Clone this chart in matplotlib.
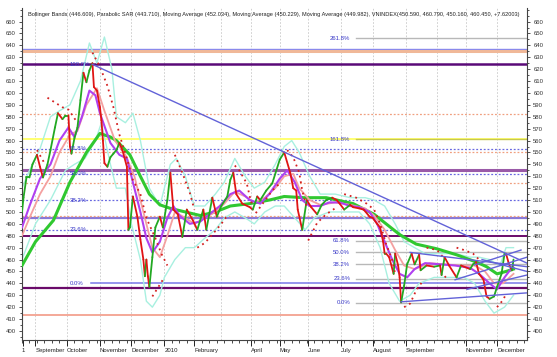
import matplotlib.pyplot as plt
from matplotlib.ticker import MultipleLocator

plt.rcParams['font.family'] = ['Liberation Sans', 'DejaVu Sans']

# ---- data (x = trading-day index from mid-Aug 2009) ----
close_day = [0, 1, 3, 5, 7, 10, 12, 14, 17, 19, 22, 24, 27, 29, 31, 32, 33, 35, 37, 39, 41, 43, 45, 47,
             48, 50, 52, 53, 54, 55, 57, 59, 61, 63, 65, 67, 70, 71, 72, 74, 77, 79, 81, 82, 83, 84, 85,
             87, 89, 92, 94, 97, 99, 101, 104, 107, 110, 114, 117, 121, 123, 127, 130, 133, 137, 139, 141,
             143, 147, 152, 154, 157, 159, 163, 167, 172, 175, 179, 181, 183, 184, 187, 190, 193, 197, 200,
             203, 207, 210, 212, 215, 219, 221, 225, 228, 232, 234, 237, 239, 240, 241, 242, 243, 245, 248,
             249, 251, 252, 253, 255, 257, 260, 262, 265, 266, 270, 275, 279, 280, 282, 285, 290, 293, 299,
             301, 303, 305, 308, 310, 312, 315, 317, 320, 322, 323, 325, 327, 328]
close_val = [500, 512, 529, 529, 540, 548, 538, 529, 540, 552, 571, 583, 578, 581, 581, 555, 549, 562, 571, 594,
             617, 609, 619, 625, 605, 602, 588, 577, 560, 541, 538, 546, 549, 552, 558, 552, 538, 485, 487,
             513, 496, 477, 460, 446, 460, 446, 437, 462, 487, 496, 487, 510, 533, 502, 498, 479, 502, 493,
             485, 502, 485, 512, 496, 505, 513, 527, 533, 515, 507, 504, 502, 513, 510, 518, 524, 544, 550,
             533, 520, 518, 502, 485, 510, 504, 498, 506, 510, 512, 510, 507, 502, 506, 504, 503, 502, 496,
             495, 490, 487, 481, 475, 465, 465, 462, 448, 465, 455, 445, 424, 438, 456, 465, 456, 464, 451,
             455, 454, 455, 447, 462, 455, 445, 455, 452, 456, 458, 448, 443, 429, 427, 429, 437, 448, 465,
             465, 456, 451, 460]

ma_long_day = [0, 9, 21, 32, 43, 52, 59, 63, 72, 79, 85, 92, 99, 109, 119, 129, 139, 152, 165, 175, 188, 203,
               221, 235, 243, 252, 263, 277, 290, 303, 310, 317, 323, 328]
ma_long_val = [455, 475, 493, 525, 550, 566, 563, 560, 548, 530, 515, 506, 503, 500, 497, 500, 505, 507, 510,
               513, 512, 512, 507, 498, 490, 481, 473, 469, 464, 458, 454, 448, 450, 452]

ma_short_day = [0, 5, 12, 19, 25, 31, 35, 40, 45, 49, 52, 59, 65, 70, 74, 79, 83, 87, 92, 97, 101, 105, 112,
                119, 125, 132, 139, 145, 152, 159, 165, 172, 177, 182, 187, 192, 199, 205, 212, 219, 225, 232,
                237, 242, 247, 252, 257, 262, 269, 279, 289, 299, 305, 312, 317, 322, 328]
ma_short_val = [487, 505, 528, 540, 560, 571, 563, 580, 602, 598, 583, 558, 548, 545, 525, 500, 478, 466, 475,
                495, 505, 497, 490, 492, 498, 505, 515, 518, 510, 507, 515, 528, 535, 525, 510, 505, 505, 508,
                508, 505, 504, 500, 490, 475, 460, 448, 445, 452, 457, 456, 455, 453, 448, 440, 435, 445, 455]

ma_mid_day = [0, 5, 12, 19, 25, 32, 37, 43, 50, 55, 62, 69, 75, 82, 87, 92, 97, 102, 109, 115, 122, 129, 135,
              142, 149, 155, 162, 169, 175, 181, 185, 192, 199, 209, 219, 229, 235, 242, 249, 255, 262, 272,
              282, 292, 302, 309, 315, 321, 328]
ma_mid_val = [480, 495, 515, 530, 550, 565, 568, 590, 604, 585, 560, 548, 530, 495, 470, 462, 480, 500, 495,
              490, 495, 500, 507, 517, 513, 508, 512, 520, 530, 532, 520, 510, 506, 508, 506, 503, 497, 485,
              468, 455, 452, 457, 456, 455, 455, 450, 440, 440, 448]

bb_up_day = [0, 5, 12, 19, 25, 32, 39, 45, 50, 55, 60, 63, 69, 74, 79, 85, 92, 99, 103, 109, 115, 122, 129,
             135, 142, 149, 155, 162, 169, 175, 180, 185, 192, 199, 209, 219, 229, 235, 242, 249, 255, 262,
             269, 279, 289, 299, 305, 312, 319, 323, 328]
bb_up_val = [520, 535, 553, 580, 585, 590, 610, 642, 625, 647, 620, 580, 575, 583, 560, 520, 505, 540, 545,
             530, 505, 505, 515, 525, 545, 530, 520, 525, 540, 555, 560, 550, 530, 515, 515, 512, 512, 510,
             505, 490, 475, 470, 465, 465, 465, 462, 462, 460, 455, 470, 470]

bb_lo_day = [0, 9, 19, 29, 35, 42, 49, 53, 59, 63, 69, 73, 79, 83, 87, 92, 95, 102, 109, 115, 122, 129, 135,
             142, 149, 155, 162, 169, 175, 182, 189, 195, 205, 215, 225, 232, 239, 245, 252, 259, 265, 275,
             285, 295, 302, 309, 315, 322, 328]
bb_lo_val = [460, 490, 510, 535, 540, 545, 560, 575, 540, 520, 520, 490, 460, 425, 420, 430, 445, 460, 470,
             470, 478, 485, 495, 500, 495, 490, 500, 505, 505, 495, 485, 495, 500, 500, 500, 490, 470, 440,
             425, 430, 440, 445, 445, 445, 440, 425, 415, 420, 430]

sar_runs = [
    [(10, 552), (15, 541)],
    [(17, 596), (27, 588), (31, 586), (37, 575)],
    [(47, 634), (52, 622), (57, 606), (61, 588), (65, 565), (70, 545), (74, 527), (79, 515), (83, 495),
     (89, 478), (93, 465), (97, 455)],
    [(87, 429), (91, 437), (94, 443)],
    [(102, 548), (107, 533), (112, 516), (115, 502)],
    [(117, 470), (122, 474), (127, 481), (133, 490), (137, 497)],
    [(142, 539), (145, 535), (150, 524), (152, 513), (154, 504)],
    [(156, 499), (167, 518), (172, 524)],
    [(177, 552), (181, 546), (185, 533), (187, 518), (190, 504)],
    [(191, 476), (197, 491), (203, 498), (210, 504)],
    [(215, 515), (223, 512), (230, 507), (235, 502), (239, 490), (243, 473), (247, 460), (249, 448)],
    [(255, 420), (259, 423), (263, 434), (268, 443)],
    [(270, 470), (277, 468), (281, 462)],
    [(282, 445), (285, 448)],
    [(290, 470), (295, 468), (301, 465), (305, 460)],
    [(317, 420), (321, 426), (323, 431)],
]

# horizontal levels
solid_levels = [637, 635, 624, 561, 535, 495, 480, 436, 413]
orange_fib = [582, 550, 524, 497]
blue_fib = [553, 532, 510, 485]
left_fib_vals = [624, 553, 532, 510, 485, 440]
left_fib_text = ['100.0%', '61.8%', '50.0%', '38.2%', '23.6%', '0.0%']
right_fib_vals = [646, 561, 476, 466, 456, 444, 423.5]
right_fib_text = ['261.8%', '161.8%', '61.8%', '50.0%', '38.2%', '23.6%', '0.0%']

trend_lines = [
    [(47, 624), (337, 457)],
    [(253, 424.5), (337, 432)],
    [(259, 466), (337, 454)],
    [(289, 443), (337, 462)],
    [(297, 435), (337, 447)],
    [(302, 455.5), (333, 468)],
    [(307, 460), (337, 450)],
]

month_days = [9, 30, 52, 73, 95, 115, 153, 172, 191, 213, 234, 256, 296, 317]
month_text = ['September', 'October', 'November', 'December', '2010', 'February', 'April', 'May',
              'June', 'July', 'August', 'September', 'November', 'December']
grid_days = [9, 30, 52, 73, 95, 115, 133, 153, 172, 191, 213, 234, 256, 277, 296, 317]

title = ('Bollinger Bands (446.609), Parabolic SAR (443.710), Moving Average (452.034), '
         'Moving Average (450.229), Moving Average (449.982), '
         'VNINDEX(450.590, 460.790, 450.160, 460.450, +7.62003)')

# ---- figure ----
fig = plt.figure(figsize=(5.57, 3.57), dpi=100)
ax = fig.add_axes([22 / 557, 1 - 340 / 357, 505 / 557, 332 / 357])
ax.set_xlim(0, 337)
ax.set_ylim(392.4, 671.4)

for d in grid_days:
    ax.axvline(d, color='#c8c8c8', lw=0.6, ls=(0, (2, 2)), zorder=0)

solid_colors = ['#8888ee', '#f0b898', '#5a0a78', '#ffff70', '#9a5aa8', '#8878d8', '#6a0a6a', '#6a0a6a', '#f4a898']
solid_widths = [1.0, 2.2, 1.8, 1.4, 2.2, 1.6, 1.4, 1.6, 1.4]
for v, c, w in zip(solid_levels, solid_colors, solid_widths):
    ax.axhline(v, color=c, lw=w, zorder=1)
for v in orange_fib:
    ax.axhline(v, color='#f0a080', lw=0.9, ls=(0, (1.5, 1.5)), zorder=1)
for v in blue_fib:
    ax.axhline(v, color='#6868e0', lw=0.9, ls=(0, (1.5, 1.5)), zorder=1)
ax.plot([46, 337], [440, 440], color='#7878e8', lw=1.1, zorder=1)

for v, t in zip(left_fib_vals, left_fib_text):
    ax.text(32, v, t, fontsize=4.3, color='#3838c8', va='center', ha='left', zorder=6)
for i, (v, t) in enumerate(zip(right_fib_vals, right_fib_text)):
    col = '#c8c850' if t == '161.8%' else '#b8b8b8'
    ax.plot([223, 337], [v, v], color=col, lw=1.0, zorder=1)
    ax.text(219, v, t, fontsize=4.3, color='#3838c8', va='center', ha='right', zorder=6)

ax.plot(bb_up_day, bb_up_val, color='#a8f0e0', lw=1.0, zorder=2)
ax.plot(bb_lo_day, bb_lo_val, color='#a8f0e0', lw=1.0, zorder=2)
ax.plot(ma_long_day, ma_long_val, color='#30c830', lw=2.2, zorder=3)
ax.plot(ma_mid_day, ma_mid_val, color='#f4a0a0', lw=1.3, zorder=3)
ax.plot(ma_short_day, ma_short_val, color='#b040f0', lw=1.5, zorder=3)

for i in range(len(close_day) - 1):
    up = close_val[i + 1] >= close_val[i]
    ax.plot(close_day[i:i + 2], close_val[i:i + 2], color='#22a822' if up else '#e01414',
            lw=1.3, zorder=4, solid_capstyle='round')

for run in sar_runs:
    xs, ys = zip(*run)
    ax.plot(xs, ys, color='#d42020', lw=1.3, ls=(0, (1, 2.2)), zorder=4)

for line in trend_lines:
    xs, ys = zip(*line)
    ax.plot(xs, ys, color='#6262d8', lw=1.0, zorder=5)

ax.text(4, 666, title, fontsize=4.1, color='#222222', va='center', ha='left')

# axes styling
for s in ['top']:
    ax.spines[s].set_visible(False)
for s in ['left', 'right', 'bottom']:
    ax.spines[s].set_color('#444444')
    ax.spines[s].set_linewidth(0.8)
ax.yaxis.set_major_locator(MultipleLocator(10))
ax.yaxis.set_minor_locator(MultipleLocator(5))
ax.set_yticks(range(400, 661, 10))
ax.tick_params(axis='y', which='both', left=True, right=True, labelleft=True, labelright=True,
               labelsize=4.3, colors='#333333', length=2.5, width=0.6, pad=2)
ax.tick_params(axis='y', which='minor', length=1.5)

ax.set_xticks([1] + month_days)
ax.set_xticklabels(['1'] + month_text, fontsize=4.3, color='#222222')
for lbl in ax.get_xticklabels()[1:]:
    lbl.set_horizontalalignment('left')
ax.xaxis.set_minor_locator(MultipleLocator(5))
ax.tick_params(axis='x', which='major', length=4, width=0.6, pad=1.5)
ax.tick_params(axis='x', which='minor', length=2, width=0.5)

fig.savefig('out.png', dpi=100)
